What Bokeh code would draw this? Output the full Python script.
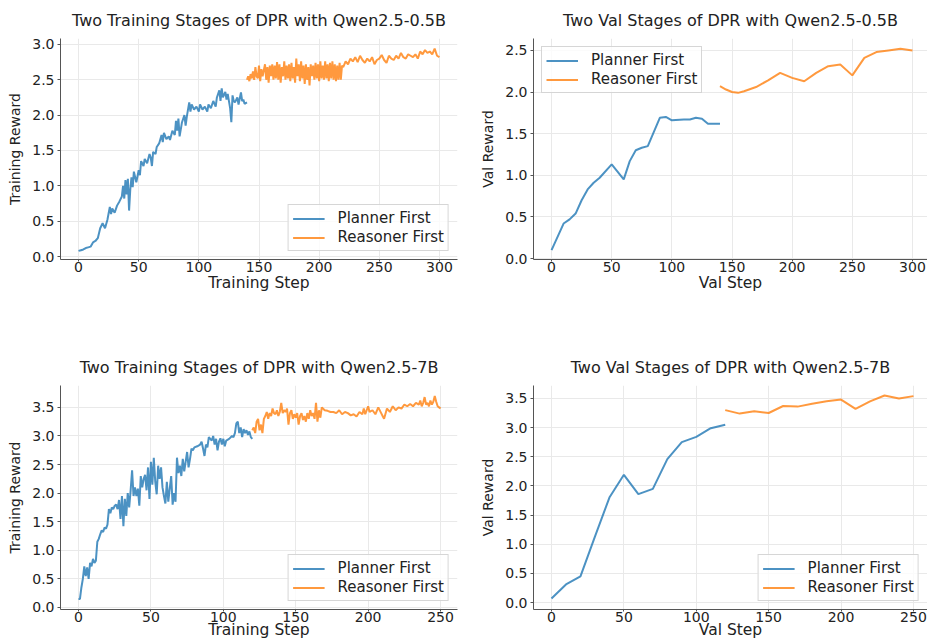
from bokeh.plotting import figure
from bokeh.models import Range1d, SingleIntervalTicker, NumeralTickFormatter
from bokeh.layouts import column, row
from bokeh.embed import file_html
from bokeh.resources import INLINE

# ---------------- data ----------------
# Panel 1: training reward, Qwen2.5-0.5B
train05_planner_step = [0, 2, 4, 6, 8, 10, 12, 14, 16, 18, 20, 22, 24, 26, 27, 28, 30, 32, 34, 36, 37, 38, 39, 40,
                        41, 42, 43, 44, 45, 46, 48, 50, 51, 52, 54, 55, 57, 59, 60, 61, 62, 64, 65, 67, 69, 70, 71,
                        73, 75, 76, 78, 80, 81, 82, 83, 84, 86, 88, 89, 90, 92, 93, 94, 96, 98, 100, 101, 103, 105,
                        107, 108, 110, 112, 114, 115, 117, 118, 119, 120, 122, 123, 124, 126, 127, 128, 129, 130,
                        132, 133, 135, 136, 137, 138, 140]
train05_planner_reward = [0.08, 0.09, 0.10, 0.12, 0.13, 0.14, 0.20, 0.22, 0.26, 0.40, 0.47, 0.40, 0.52, 0.70, 0.60,
                          0.68, 0.62, 0.72, 0.78, 0.85, 1.00, 0.82, 1.08, 0.88, 1.10, 0.65, 0.95, 1.12, 0.98, 1.20,
                          1.05, 1.22, 1.15, 1.35, 1.28, 1.38, 1.32, 1.45, 1.40, 1.28, 1.48, 1.45, 1.55, 1.60, 1.72,
                          1.62, 1.75, 1.66, 1.70, 1.65, 1.78, 1.72, 1.92, 1.78, 1.95, 1.70, 1.90, 2.00, 1.85, 1.98,
                          2.18, 2.05, 2.15, 2.08, 2.12, 2.05, 2.15, 2.08, 2.12, 2.05, 2.15, 2.10, 2.20, 2.12, 2.25,
                          2.35, 2.20, 2.38, 2.25, 2.33, 2.22, 2.30, 2.10, 1.90, 2.28, 2.20, 2.18, 2.25, 2.15, 2.32,
                          2.20, 2.22, 2.16, 2.18]
train05_reasoner_step = [140, 141, 142, 143, 144, 145, 146, 147, 148, 149, 150, 151, 152, 153, 155, 156, 157, 158,
                         159, 160, 161, 162, 163, 164, 165, 166, 167, 168, 169, 170, 171, 172, 173, 174, 175, 176,
                         177, 178, 179, 180, 181, 182, 183, 184, 185, 186, 187, 188, 189, 190, 191, 192, 193, 194,
                         195, 196, 197, 198, 199, 200, 201, 202, 203, 204, 205, 206, 207, 208, 209, 210, 211, 212,
                         213, 214, 215, 216, 217, 218, 219, 220, 222, 224, 226, 228, 230, 232, 234, 236, 238, 240,
                         242, 244, 246, 248, 250, 252, 254, 256, 258, 260, 262, 264, 266, 268, 270, 272, 274, 276,
                         278, 280, 282, 284, 286, 288, 290, 292, 294, 296, 298, 300]
train05_reasoner_reward = [2.50, 2.55, 2.48, 2.58, 2.52, 2.62, 2.50, 2.68, 2.55, 2.52, 2.70, 2.48, 2.65, 2.55, 2.72,
                           2.50, 2.68, 2.46, 2.70, 2.55, 2.72, 2.50, 2.70, 2.52, 2.75, 2.50, 2.72, 2.46, 2.68, 2.55,
                           2.76, 2.50, 2.70, 2.52, 2.72, 2.48, 2.74, 2.52, 2.68, 2.46, 2.80, 2.55, 2.72, 2.48, 2.76,
                           2.52, 2.70, 2.44, 2.72, 2.50, 2.68, 2.42, 2.72, 2.55, 2.70, 2.50, 2.74, 2.52, 2.72, 2.48,
                           2.76, 2.52, 2.70, 2.50, 2.76, 2.52, 2.72, 2.48, 2.74, 2.52, 2.76, 2.50, 2.72, 2.48, 2.70,
                           2.50, 2.74, 2.50, 2.70, 2.68, 2.76, 2.72, 2.80, 2.76, 2.82, 2.75, 2.84, 2.78, 2.74, 2.80,
                           2.76, 2.82, 2.72, 2.78, 2.80, 2.85, 2.78, 2.74, 2.84, 2.80, 2.78, 2.84, 2.80, 2.88, 2.82,
                           2.80, 2.86, 2.84, 2.82, 2.86, 2.80, 2.90, 2.86, 2.92, 2.88, 2.90, 2.86, 2.94, 2.84, 2.82]

# Panel 2: val reward, Qwen2.5-0.5B
val05_planner_step = [0, 10, 15, 20, 25, 30, 35, 40, 50, 60, 65, 70, 75, 80, 90, 95, 100, 110, 115, 120, 125, 130,
                      135, 140]
val05_planner_reward = [0.10, 0.42, 0.47, 0.54, 0.70, 0.83, 0.91, 0.97, 1.13, 0.95, 1.17, 1.30, 1.33, 1.35, 1.69,
                        1.70, 1.66, 1.67, 1.67, 1.69, 1.68, 1.62, 1.62, 1.62]
val05_reasoner_step = [140, 145, 150, 155, 160, 170, 180, 190, 200, 210, 220, 230, 240, 250, 260, 270, 280, 290, 300]
val05_reasoner_reward = [2.07, 2.03, 2.00, 1.99, 2.01, 2.06, 2.14, 2.23, 2.17, 2.13, 2.23, 2.31, 2.33, 2.20, 2.41,
                         2.48, 2.50, 2.52, 2.50]

# Panel 3: training reward, Qwen2.5-7B
train7_planner_step = [0, 1, 2, 3, 4, 5, 6, 7, 8, 9, 10, 11, 12, 13, 14, 15, 16, 17, 18, 19, 20, 21, 22, 23, 24, 25,
                       26, 27, 28, 29, 30, 31, 32, 33, 34, 35, 36, 37, 38, 39, 40, 41, 42, 43, 44, 45, 46, 47, 48,
                       49, 50, 51, 52, 53, 54, 55, 56, 57, 58, 59, 60, 61, 62, 63, 64, 65, 66, 67, 68, 69, 70, 71,
                       72, 73, 74, 75, 76, 77, 78, 79, 80, 82, 84, 85, 86, 87, 88, 89, 90, 92, 93, 94, 95, 96, 97,
                       98, 99, 100, 101, 102, 104, 106, 107, 108, 109, 110, 111, 112, 113, 114, 115, 116, 117, 118,
                       119, 120]
train7_planner_reward = [0.15, 0.15, 0.35, 0.50, 0.72, 0.55, 0.70, 0.50, 0.78, 0.72, 0.85, 0.78, 0.82, 1.15, 1.20,
                         1.28, 1.35, 1.32, 1.40, 1.38, 1.45, 1.72, 1.65, 1.75, 1.72, 1.78, 1.80, 1.72, 1.88, 1.55,
                         1.95, 1.42, 1.90, 1.60, 2.00, 1.75, 2.05, 2.40, 1.95, 2.10, 1.95, 2.08, 1.78, 2.30, 2.10,
                         2.25, 2.32, 2.05, 2.45, 1.90, 2.55, 2.15, 2.62, 2.20, 1.98, 2.48, 2.25, 2.45, 2.10, 1.95,
                         1.82, 2.20, 1.85, 2.08, 2.30, 1.80, 2.00, 1.85, 2.62, 2.35, 2.48, 2.30, 2.60, 2.38, 2.55,
                         2.72, 2.45, 2.60, 2.78, 2.75, 2.80, 2.82, 2.85, 2.90, 2.78, 2.65, 2.85, 2.80, 2.98, 2.92,
                         3.00, 2.85, 2.95, 2.75, 2.90, 2.96, 2.85, 2.95, 2.82, 2.92, 2.95, 3.00, 2.98, 3.05, 3.22,
                         3.25, 3.05, 3.15, 2.98, 3.12, 3.05, 3.10, 3.02, 3.08, 2.98, 2.95]
train7_reasoner_step = [120, 121, 122, 123, 124, 125, 126, 127, 128, 129, 130, 131, 132, 133, 134, 135, 136, 137,
                        138, 139, 140, 141, 142, 143, 144, 145, 146, 147, 148, 149, 150, 151, 152, 153, 154, 155,
                        156, 157, 158, 159, 160, 161, 162, 163, 164, 165, 166, 167, 168, 170, 172, 174, 176, 178,
                        180, 182, 184, 186, 188, 190, 192, 194, 196, 197, 198, 200, 201, 203, 205, 207, 209, 210,
                        211, 213, 215, 217, 219, 221, 223, 225, 227, 229, 231, 233, 235, 236, 237, 238, 239, 240,
                        241, 242, 243, 244, 245, 246, 247, 248, 249, 250]
train7_reasoner_reward = [3.10, 3.15, 3.05, 3.25, 3.30, 3.10, 3.20, 3.05, 3.30, 3.35, 3.42, 3.30, 3.40, 3.35, 3.48,
                          3.40, 3.38, 3.45, 3.35, 3.42, 3.58, 3.40, 3.45, 3.42, 3.48, 3.20, 3.40, 3.45, 3.30, 3.38,
                          3.32, 3.40, 3.20, 3.35, 3.40, 3.28, 3.35, 3.25, 3.40, 3.30, 3.45, 3.35, 3.40, 3.30, 3.58,
                          3.25, 3.45, 3.32, 3.50, 3.45, 3.44, 3.42, 3.42, 3.40, 3.45, 3.38, 3.42, 3.40, 3.36, 3.38,
                          3.34, 3.42, 3.38, 3.48, 3.38, 3.52, 3.42, 3.45, 3.38, 3.50, 3.40, 3.35, 3.30, 3.48, 3.42,
                          3.52, 3.45, 3.50, 3.48, 3.55, 3.52, 3.56, 3.52, 3.58, 3.55, 3.62, 3.52, 3.58, 3.68, 3.55,
                          3.58, 3.52, 3.62, 3.55, 3.60, 3.70, 3.60, 3.52, 3.50, 3.48]

# Panel 4: val reward, Qwen2.5-7B
val7_planner_step = [0, 10, 20, 30, 40, 50, 60, 70, 80, 90, 100, 110, 120]
val7_planner_reward = [0.07, 0.31, 0.45, 1.13, 1.80, 2.19, 1.86, 1.95, 2.46, 2.75, 2.84, 2.99, 3.05]
val7_reasoner_step = [120, 130, 140, 150, 160, 170, 180, 190, 200, 210, 220, 230, 240, 250]
val7_reasoner_reward = [3.30, 3.24, 3.28, 3.25, 3.37, 3.36, 3.41, 3.45, 3.48, 3.32, 3.45, 3.55, 3.50, 3.54]

titles = ["Two Training Stages of DPR with Qwen2.5-0.5B", "Two Val Stages of DPR with Qwen2.5-0.5B",
          "Two Training Stages of DPR with Qwen2.5-7B", "Two Val Stages of DPR with Qwen2.5-7B"]
series_names = ["Planner First", "Reasoner First"]

# ---------------- styling ----------------
BLUE = "#1f77b4"
ORANGE = "#ff7f0e"
FONT = "DejaVu Sans"


def make_panel(width, height, borders, xr, yr, title, xlabel, ylabel,
               plan_x, plan_y, reas_x, reas_y, legend_loc, xlabel_standoff):
    left, right, top, bottom = borders
    p = figure(width=width, height=height, output_backend="svg", toolbar_location=None,
               x_range=Range1d(*xr), y_range=Range1d(*yr), title=title,
               min_border_left=left, min_border_right=right,
               min_border_top=top, min_border_bottom=bottom)
    p.outline_line_color = None
    p.background_fill_color = "white"
    p.border_fill_color = "white"

    p.title.text_font = FONT
    p.title.text_font_size = "16px"
    p.title.text_font_style = "normal"
    p.title.text_color = "#222222"
    p.title.align = "center"
    p.title.standoff = 17

    p.xaxis.ticker = SingleIntervalTicker(interval=50, num_minor_ticks=0)
    p.yaxis.ticker = SingleIntervalTicker(interval=0.5, num_minor_ticks=0)
    p.yaxis.formatter = NumeralTickFormatter(format="0.0")
    p.xaxis.axis_label = xlabel
    p.yaxis.axis_label = ylabel
    for ax in (p.xaxis, p.yaxis):
        ax.axis_label_text_font = FONT
        ax.axis_label_text_font_style = "normal"
        ax.axis_label_text_color = "#222222"
        ax.major_label_text_font = FONT
        ax.major_label_text_font_size = "14px"
        ax.major_label_text_color = "#222222"
        ax.axis_line_color = "#555555"
        ax.major_tick_line_color = "#555555"
        ax.major_tick_in = 0
        ax.minor_tick_line_color = None
    p.xaxis.axis_label_text_font_size = "15.5px"
    p.yaxis.axis_label_text_font_size = "14px"
    p.xaxis.major_tick_out = 2
    p.yaxis.major_tick_out = 3
    p.xaxis.major_label_standoff = 0
    p.xaxis.axis_label_standoff = xlabel_standoff
    p.yaxis.major_label_standoff = 3
    p.yaxis.axis_label_standoff = 6

    p.grid.grid_line_color = "#e9e9e9"
    p.grid.grid_line_width = 1

    p.line(plan_x, plan_y, line_color=BLUE, line_alpha=0.8, line_width=2, legend_label=series_names[0])
    p.line(reas_x, reas_y, line_color=ORANGE, line_alpha=0.8, line_width=2, legend_label=series_names[1])

    lg = p.legend[0]
    lg.location = legend_loc
    lg.label_text_font = FONT
    lg.label_text_font_size = "15px"
    lg.label_text_color = "#222222"
    lg.glyph_width = 32
    lg.glyph_height = 15
    lg.label_height = 15
    lg.label_standoff = 13
    lg.spacing = 1
    lg.padding = 4
    lg.margin = 8
    lg.border_line_color = "#cccccc"
    lg.border_line_alpha = 0.8
    lg.background_fill_alpha = 0.8
    return p


H1 = 320
H2 = 641 - H1
p1 = make_panel(465, H1, (60, 8, 36, H1 - 259), (-15, 315), (-0.042, 3.084), titles[0],
                "Training Step", "Training Reward",
                train05_planner_step, train05_planner_reward, train05_reasoner_step, train05_reasoner_reward,
                "bottom_right", -1)
p2 = make_panel(462, H1, (68, 0, 36, H1 - 259), (-15, 312.5), (-0.012, 2.643), titles[1],
                "Val Step", "Val Reward",
                val05_planner_step, val05_planner_reward, val05_reasoner_step, val05_reasoner_reward,
                "top_left", -1)
p3 = make_panel(465, H2, (60, 8, 385 - H1, 31), (-12.43, 261.7), (-0.035, 3.883), titles[2],
                "Training Step", "Training Reward",
                train7_planner_step, train7_planner_reward, train7_reasoner_step, train7_reasoner_reward,
                "bottom_right", -4)
p4 = make_panel(462, H2, (68, 0, 385 - H1, 31), (-12.43, 259.7), (-0.1195, 3.722), titles[3],
                "Val Step", "Val Reward",
                val7_planner_step, val7_planner_reward, val7_reasoner_step, val7_reasoner_reward,
                "bottom_right", -4)

layout = column(row(p1, p2), row(p3, p4))
open("out.html", "w").write(file_html(layout, INLINE))
